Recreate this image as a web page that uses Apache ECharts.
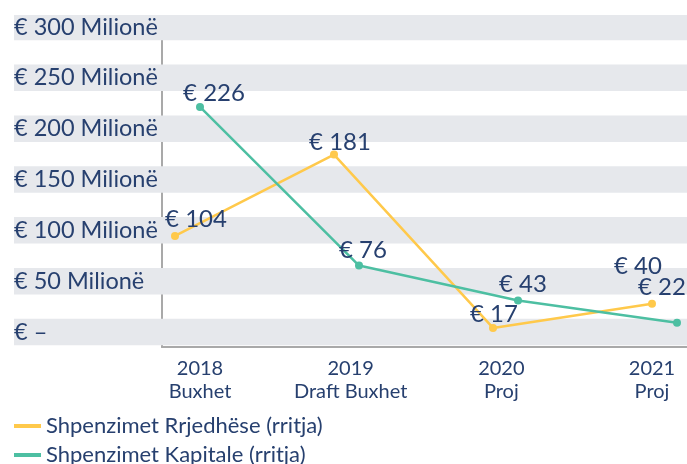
<!DOCTYPE html>
<html>
<head>
<meta charset="utf-8">
<style>
  html, body { margin: 0; padding: 0; background: #fff; }
  #chart { width: 687px; height: 464px; }
</style>
<script src="https://cdn.jsdelivr.net/npm/echarts@6/dist/echarts.min.js"></script>
</head>
<body>
<div id="chart"></div>
<script>
const years = ['2018\nBuxhet', '2019\nDraft Buxhet', '2020\nProj', '2021\nProj'];
const yTicks = [0, 50, 100, 150, 200, 250, 300];
const rrjedhese = [104, 181, 17, 40];
const kapitale = [226, 76, 43, 22];
const seriesNames = ['Shpenzimet Rrjedhëse (rritja)', 'Shpenzimet Kapitale (rritja)'];

const navy = '#27406f';
const font = 'Lato';

// label offsets, taken from how the labels sit in the picture
const offRrjedhese = [[21, 4], [6, 9], [1, 7], [-14, -16]];
const offKapitale = [[14, 7], [4, 6], [5, 5], [-15, -14]];

const chart = echarts.init(document.getElementById('chart'));

const withLabels = (values, offsets) =>
    values.map((v, i) => ({ value: v, label: { offset: offsets[i] } }));

const legendBox = (name, top) => ({
    orient: 'vertical',
    left: 14,
    top: top,
    padding: 0,
    itemWidth: 27,
    itemHeight: 4,
    itemGap: 0,
    icon: 'rect',
    textStyle: { color: navy, fontFamily: font, fontSize: 22, lineHeight: 24 },
    data: [name],
});

chart.setOption({
    animation: false,
    grid: [
        // background bands + y labels
        { left: 14, right: 0, top: 15, bottom: 117 },
        // frame lines
        { left: 162, right: 0, top: 17, bottom: 117 },
        // category labels
        { left: 200, right: 35, top: 15, bottom: 117 },
        // series grids
        { left: 175, right: 35, top: 15, bottom: 117 },
        { left: 200, right: 10, top: 15, bottom: 117 },
    ],
    xAxis: [
        { gridIndex: 0, type: 'value', min: 0, max: 1, show: false },
        {
            gridIndex: 1, type: 'value', min: 0, max: 1,
            axisLine: { show: true, lineStyle: { color: '#a9a9a9', width: 2 } },
            axisTick: { show: false }, axisLabel: { show: false }, splitLine: { show: false },
        },
        {
            gridIndex: 2, type: 'category', data: years, boundaryGap: false,
            axisLine: { show: false }, axisTick: { show: false },
            axisLabel: {
                margin: 10, color: navy, fontFamily: font, fontSize: 20, lineHeight: 23,
                interval: 0,
            },
        },
        { gridIndex: 3, type: 'category', data: years, boundaryGap: false, show: false },
        { gridIndex: 4, type: 'category', data: years, boundaryGap: false, show: false },
    ],
    yAxis: [
        {
            gridIndex: 0, type: 'value', min: -14.75, max: 311.8, z: 10,
            axisLine: { show: false }, axisTick: { show: false }, splitLine: { show: false },
            axisLabel: {
                inside: true, margin: 0, align: 'left', color: navy,
                fontFamily: font, fontSize: 23.5,
                customValues: yTicks,
                formatter: (v) => (v === 0 ? '€ –' : `€ ${v} Milionë`),
            },
        },
        {
            gridIndex: 1, type: 'value', min: 0, max: 1,
            axisLine: { show: true, lineStyle: { color: '#a9a9a9', width: 2 } },
            axisTick: { show: false }, axisLabel: { show: false }, splitLine: { show: false },
        },
        { gridIndex: 2, type: 'value', min: 0, max: 1, show: false },
        { gridIndex: 3, type: 'value', min: -1, max: 313, show: false },
        { gridIndex: 4, type: 'value', min: -1, max: 313, show: false },
    ],
    legend: [legendBox(seriesNames[0], 414), legendBox(seriesNames[1], 443)],
    series: [
        {
            type: 'line',
            xAxisIndex: 0,
            yAxisIndex: 0,
            data: [],
            silent: true,
            z: 0,
            markArea: {
                silent: true,
                itemStyle: { color: '#e6e8ec' },
                data: yTicks.map((v) => [{ yAxis: v - 13 }, { yAxis: v + 13 }]),
            },
        },
        {
            name: seriesNames[0],
            type: 'line',
            xAxisIndex: 3,
            yAxisIndex: 3,
            data: withLabels(rrjedhese, offRrjedhese),
            color: '#ffc94b',
            lineStyle: { width: 2.5 },
            symbol: 'circle',
            symbolSize: 8,
            label: {
                show: true, position: 'top', distance: 5,
                color: navy, fontFamily: font, fontSize: 24,
                formatter: (p) => `€ ${p.value}`,
            },
        },
        {
            name: seriesNames[1],
            type: 'line',
            xAxisIndex: 4,
            yAxisIndex: 4,
            data: withLabels(kapitale, offKapitale),
            color: '#4dbfa2',
            lineStyle: { width: 2.5 },
            symbol: 'circle',
            symbolSize: 8,
            label: {
                show: true, position: 'top', distance: 5,
                color: navy, fontFamily: font, fontSize: 24,
                formatter: (p) => `€ ${p.value}`,
            },
        },
    ],
});
</script>
</body>
</html>
